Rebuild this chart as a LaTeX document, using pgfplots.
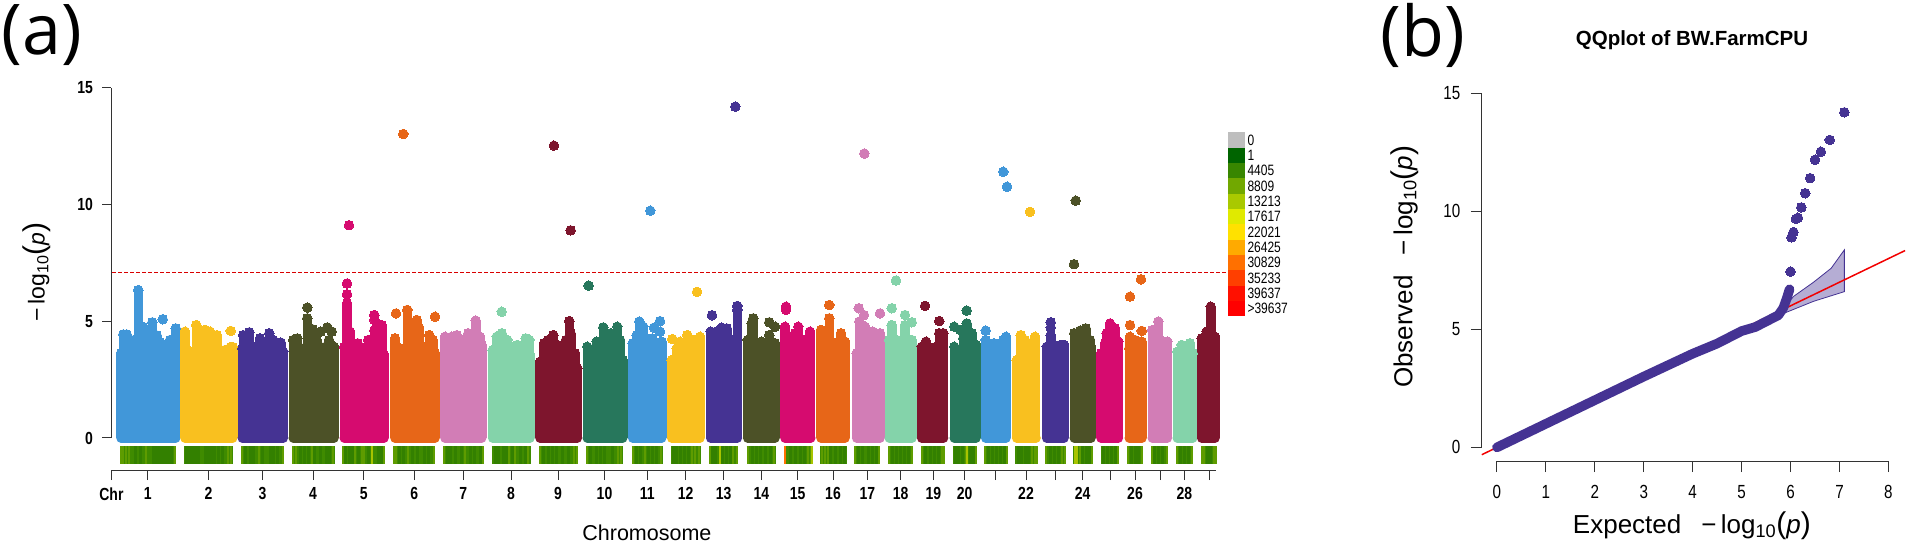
\documentclass[border=0pt]{standalone}
\usepackage{fontspec}
\usepackage{pgfplots}
\pgfplotsset{compat=1.18}
\setmainfont{Liberation Sans}
\newfontfamily\condsans[FakeStretch=0.8]{Liberation Sans}
\newfontfamily\panelfont{Open Sans}

% CMplot colours, repeated every ten chromosomes
\definecolor{cA}{HTML}{4197D9}
\definecolor{cB}{HTML}{F9C01F}
\definecolor{cC}{HTML}{453393}
\definecolor{cD}{HTML}{4C5127}
\definecolor{cE}{HTML}{D60B6F}
\definecolor{cF}{HTML}{E76618}
\definecolor{cG}{HTML}{D27DB6}
\definecolor{cH}{HTML}{84D3AA}
\definecolor{cI}{HTML}{7E152D}
\definecolor{cJ}{HTML}{27775C}
% density strip and its key
\definecolor{sBase}{HTML}{3F8B00}
\definecolor{sDark}{HTML}{338000}
\definecolor{sLight}{HTML}{5E9C00}
\definecolor{sBright}{HTML}{A8C400}
\definecolor{k0}{HTML}{BEBEBE}
\definecolor{k1}{HTML}{006400}
\definecolor{k2}{HTML}{388600}
\definecolor{k3}{HTML}{71A800}
\definecolor{k4}{HTML}{A9C900}
\definecolor{k5}{HTML}{E0EA00}
\definecolor{k6}{HTML}{FFE100}
\definecolor{k7}{HTML}{FFAA00}
\definecolor{k8}{HTML}{FF7000}
\definecolor{k9}{HTML}{FF3F00}
\definecolor{k10}{HTML}{FF1000}
\definecolor{k11}{HTML}{FF0000}

\pgfplotsset{
  base/.style={
    scale only axis, enlargelimits=false, clip=false,
    axis line style={black!80, line width=1pt},
    tick style={black!80, line width=1pt},
    tick align=outside,
    /pgf/number format/assume math mode=true,
  },
  dots/.style={only marks, mark=*, mark size=4.8pt, mark options={fill=#1, draw=#1, line width=0pt}},
}

% #1 colour, #2 #3 centres of the first and last column, #4 columns, #5 free points
\newcommand{\chrom}[5]{%
  \addplot[draw=#1, line width=9.6pt, line cap=round] coordinates {(#2,0) (#3,0)};
  \addplot[ycomb, draw=#1, line width=9.6pt, mark=*, mark size=4.8pt,
    mark options={fill=#1, draw=#1, line width=0pt}] coordinates {#4};
  \addplot[dots=#1] coordinates {#5};
}
% #1 #2 ends of the strip, #3 dark stripes, #4 light stripes (x only, y is the strip's middle)
\newcommand{\strip}[4]{%
  \addplot[draw=sBase, line width=18pt] coordinates {(#1,-0.73) (#2,-0.73)};
  \foreach \sx in {#3} {\edef\tmp{\noexpand\addplot[only marks, mark=|, mark size=9pt, mark options={draw=sDark, line width=3pt}] coordinates {(\sx,-0.73)};}\tmp}
  \foreach \sx in {#4} {\edef\tmp{\noexpand\addplot[only marks, mark=|, mark size=9pt, mark options={draw=sLight, line width=2.5pt}] coordinates {(\sx,-0.73)};}\tmp}
}
\newcommand{\keypatch}[2]{%
  \addplot[fill=#1, draw=none] coordinates {(0,#2) (1,#2) (1,#2+1) (0,#2+1)} --cycle;
}
\newcommand{\mlog}{−\,log\textsubscript{10}{\fontsize{30}{30}\selectfont(}\textit{p}{\fontsize{30}{30}\selectfont)}}

\begin{document}
\begin{tikzpicture}[x=1pt, y=1pt]
\path[use as bounding box] (0,0) rectangle (1908,546);

\node[font=\panelfont\fontsize{70}{70}\selectfont, anchor=center] at (42,511) {(a)};
\node[font=\panelfont\fontsize{70}{70}\selectfont, anchor=center] at (1423,511) {(b)};

% ---------- (a) Manhattan plot ----------
\begin{axis}[base,
  at={(111.4pt,108pt)}, anchor=south west,
  width=1104.1pt, height=350pt,
  xmin=111.4, xmax=1215.5, ymin=0, ymax=15,
  axis y line*=left, axis x line=none,
  ytick={0,5,10,15}, major tick length=9pt,
  yticklabel style={font=\condsans\bfseries\fontsize{17.5}{17.5}\selectfont, xshift=-6pt},
  ylabel={\mlog},
  every axis y label/.style={at={(axis description cs:-0.0674,0.474)}, rotate=90, anchor=center,
    font=\fontsize{23}{23}\selectfont},
]
\chrom{cA}{121}{175.7}{(121,3.63)(123.3,4.44)(126.7,4.44)(130,3.9)(134,4.2)(138.3,6.34)(143.3,4.76)(147.3,4.0)(149.3,4.44)(152.3,4.96)(156.7,4.4)(160,4.1)(165,3.98)(170,4.2)(175.7,4.7)}{(162.7,5.09)}
\chrom{cB}{185}{232.7}{(185,4.56)(190,3.7)(196.3,4.84)(200.7,3.77)(205,4.63)(210,4.56)(216.7,4.41)(220.7,3.77)(225,3.77)(230.7,3.9)(232.7,3.9)}{(230.7,4.59)}
\chrom{cC}{242.3}{283.3}{(242.3,3.84)(243.3,4.41)(249.3,4.53)(253.3,3.91)(260,4.27)(265,4.06)(269.3,4.49)(273.3,4.2)(280.7,4.09)(283.3,3.7)}{}
\chrom{cD}{293.3}{334}{(293.3,4.2)(297.3,4.27)(301.7,3.84)(307.3,5.13)(312.7,4.66)(316.7,4.2)(320.7,3.9)(325,3.9)(329,4.2)(334,3.91)}{(307.3,5.59)(320.7,4.56)(327.3,4.74)(331.7,4.56)}
\chrom{cE}{344.3}{384}{(344.3,3.9)(347,5.77)(350,4.56)(353.3,3.84)(357.7,4.06)(363.3,3.84)(368.3,4.2)(374.3,4.6)(376.7,4.77)(381.7,4.84)(384,3.56)}{(347,6.16)(347,6.62)(374.3,5.06)(374.3,5.27)}
\chrom{cF}{395}{435}{(395,4.27)(400,3.84)(407.3,5.49)(411.7,4.49)(416.7,5.06)(419,4.73)(423.3,3.91)(429.3,4.41)(432.7,4.2)(435,3.63)}{(396,5.34)(435,5.2)}
\chrom{cG}{445}{481.7}{(445,4.34)(451.7,4.34)(456.7,4.41)(463.3,4.2)(468.3,4.49)(475.7,5.03)(480,4.34)(481.7,3.99)}{}
\chrom{cH}{492.7}{530}{(492.7,3.77)(496.7,4.34)(501.7,4.49)(507.3,4.2)(513.3,3.91)(517.3,3.99)(522.3,3.84)(525.7,4.27)(529.3,4.2)(530,3.56)}{(501.7,5.41)}
\chrom{cI}{540}{577.3}{(540,3.27)(544,4.06)(548.3,4.2)(553.3,4.41)(557.3,3.99)(561.7,3.84)(566,4.2)(569.3,5.01)(570.7,4.49)(575,3.63)(577.3,2.99)}{}
\chrom{cJ}{587.3}{622.7}{(587.3,3.91)(591.7,3.56)(596.7,4.13)(603.3,4.74)(607.3,3.77)(610.7,4.49)(617.3,4.77)(620,4.2)(622.7,3.34)}{}
\chrom{cA}{632.7}{661.7}{(632.7,4.06)(636.7,4.41)(639.3,4.99)(643.3,4.77)(646.7,3.99)(652.3,3.99)(656.7,3.99)(661.7,4.13)}{(652.3,4.27)(654,4.73)(660,5.01)(660,4.56)}
\chrom{cB}{671.7}{700}{(671.7,3.34)(676.7,3.84)(680,4.13)(687.3,4.41)(693.3,4.2)(700,4.34)}{(672.3,4.24)}
\chrom{cC}{710.7}{737.3}{(710.7,4.56)(716.7,4.56)(721.7,4.73)(726.7,4.7)(731.7,4.2)(737.3,5.49)}{(712,5.26)(737.3,5.66)}
\chrom{cD}{747.7}{775}{(747.7,4.2)(751.7,4.91)(753.3,5.13)(757.3,3.91)(761.7,4.13)(769.3,4.41)(775,4.06)}{(769.3,4.96)(775,4.77)}
\chrom{cE}{785}{810.7}{(785,4.77)(790,3.77)(795,4.49)(798.3,4.77)(803.3,4.2)(810,4.56)}{(786,5.49)(786,5.63)}
\chrom{cF}{821}{845}{(821,4.63)(825,3.77)(829.3,5.13)(835,4.06)(841,4.49)(845,4.13)}{(829.3,5.7)}
\chrom{cG}{856.7}{880}{(856.7,3.63)(859.3,4.99)(865,4.77)(872.7,4.56)(880,4.49)}{(858.7,5.56)(864,5.27)(880,5.34)}
\chrom{cH}{889.3}{912}{(889.3,4.2)(891.7,4.84)(896.7,4.2)(905,4.84)(911.7,4.2)}{(891.7,5.56)(905,5.27)(911.7,4.96)}
\chrom{cI}{921.7}{943.5}{(921.7,3.91)(926,4.13)(931.7,3.84)(936,3.91)(939.3,4.49)(943.3,4.49)}{(925,5.66)(939.3,5.01)}
\chrom{cJ}{954.3}{976}{(954.3,3.91)(963.3,4.27)(966.7,4.91)(971.7,4.49)(976,3.99)}{(954.3,4.77)(960,4.63)(966.7,5.46)}
\chrom{cA}{985.7}{1006}{(985.7,4.2)(990,3.7)(994,4.06)(999.3,3.84)(1003.3,4.2)(1006,4.34)}{(985.7,4.6)}
\chrom{cB}{1016.7}{1036}{(1016.7,3.34)(1020.7,4.41)(1025,4.2)(1030,3.91)(1035,4.34)}{}
\chrom{cC}{1046.7}{1064}{(1046.7,3.91)(1050.7,4.41)(1056,3.91)(1060.7,3.99)(1064,3.99)}{(1050.7,4.73)(1050.7,4.96)}
\chrom{cD}{1074.3}{1091}{(1074.3,4.49)(1080,4.6)(1085.7,4.7)(1090,4.2)(1091,3.91)}{}
\chrom{cE}{1101}{1118.3}{(1101,3.63)(1105,4.06)(1106.7,4.49)(1110,4.91)(1115,4.7)(1118.3,4.13)}{}
\chrom{cF}{1129.3}{1142}{(1129.3,3.84)(1130,4.34)(1135,4.2)(1141.7,4.13)}{(1130,4.84)(1141.7,4.59)}
\chrom{cG}{1152.3}{1167.3}{(1152.3,4.63)(1158.3,4.99)(1163.3,4.13)(1167.3,4.13)}{}
\chrom{cH}{1177.3}{1192.7}{(1177.3,3.7)(1181.7,3.99)(1190,4.06)(1192.7,3.63)}{}
\chrom{cI}{1201.7}{1215}{(1201.7,4.27)(1206.7,4.56)(1210.7,5.63)(1215,4.34)}{}
% significant SNPs, one colour group each
\addplot[dots=cE] coordinates {(349,9.12)};
\addplot[dots=cF] coordinates {(403.3,13.03)(1141,6.8)(1130,6.06)};
\addplot[dots=cI] coordinates {(553.9,12.53)(570.6,8.9)};
\addplot[dots=cJ] coordinates {(588.6,6.53)};
\addplot[dots=cA] coordinates {(650.3,9.74)(1003.3,11.41)(1007,10.77)};
\addplot[dots=cB] coordinates {(697,6.26)(1030,9.69)};
\addplot[dots=cC] coordinates {(735.3,14.2)};
\addplot[dots=cG] coordinates {(864.3,12.19)};
\addplot[dots=cH] coordinates {(896,6.75)};
\addplot[dots=cD] coordinates {(1075.7,10.17)(1074,7.45)};
% threshold
\addplot[draw=red!85!black, line width=1pt, dash pattern=on 4pt off 2pt] coordinates {(112,7.09)(1228,7.09)};
% SNP density strip
\strip{120}{175.7}{153,156,159,162,165,168,171,135,140}{121,123,126,129,146,175}
\strip{184}{232.7}{186,189,192,195,198,205,208,211,214,218,222}{228,231}
\strip{241}{284}{245,250,253,262,270,273,277}{242,259,283}
\strip{292.3}{335}{300,304,308,314,320,326,329}{293,296,333,312}
\strip{342.7}{385.3}{345,349,352,358,368,378,381}{343,355,362,364,372,384}
\strip{393.3}{435.3}{399,403,412,417,424,428}{394,396,408,434}
\strip{443.3}{483.3}{447,450,455,461,470,474,480}{444,465,483}
\strip{491.7}{531}{495,498,503,506,512,520,525}{509,515,528}
\strip{539.3}{578.3}{543,548,552,556,562,568}{540,574,577}
\strip{586}{623.3}{590,596,600,604,612}{587,618,621}
\strip{631.7}{662.7}{636,640,648,652,656}{645,633,661}
\strip{671}{700.7}{673,676,680,684,688}{692,695,699}
\strip{709.3}{738.3}{712,715,722,726,730}{710,733,737}
\strip{746.7}{775.7}{752,756,760,765,770}{748,774}
\strip{784}{811.7}{790,795,800,804}{808,811}
\strip{820}{846.7}{830,835,840,844}{822,825,828}
\strip{854.7}{880}{858,862,868,872,876}{855,879}
\strip{888.3}{913.3}{892,896,900,904,908}{889,912}
\strip{921.3}{945}{925,930,934,938}{922,942,944}
\strip{952.7}{976.7}{955,958,962,970,973}{966,976}
\strip{984.7}{1007.3}{988,992,996,1000,1004}{985,1007}
\strip{1015.3}{1037.3}{1018,1021,1025,1028}{1032,1035,1037}
\strip{1045}{1065.7}{1050,1054,1058}{1046,1062,1065}
\strip{1073.3}{1092.7}{1082,1086,1089}{1080,1092}
\strip{1100.7}{1119.3}{1103,1107,1111,1115}{1118}
\strip{1127.7}{1143.3}{1131,1135,1138}{1128,1142}
\strip{1151.3}{1168.3}{1154,1158,1162}{1152,1167}
\strip{1176.7}{1193.3}{1180,1184,1188}{1177,1192}
\strip{1201}{1216.7}{1207,1210}{1202,1204,1214,1216}
\addplot[only marks, mark=|, mark size=9pt, mark options={draw=sBright, line width=2.5pt}] coordinates {(372,-0.73)(720,-0.73)(812,-0.73)(967,-0.73)(1075,-0.73)(1077,-0.73)};
\addplot[only marks, mark=|, mark size=9pt, mark options={draw=k8, line width=2pt}] coordinates {(785,-0.73)};
\end{axis}

% chromosome axis
\begin{axis}[base,
  at={(111.4pt,76pt)}, anchor=south west,
  width=1104.1pt, height=10pt,
  xmin=111.4, xmax=1215.5, ymin=0, ymax=1,
  axis x line*=bottom, axis y line=none,
  major tick length=10pt,
  xtick={111.4,147.8,208.6,262.4,313,363.7,414.3,463.3,511,558,604.5,647.3,685.7,723.7,761.3,797.7,833,867.3,900.7,933.3,964.7,995.7,1026,1055.3,1082.7,1110,1135,1160,1184.3,1209},
  xticklabels={Chr,1,2,3,4,5,6,7,8,9,10,11,12,13,14,15,16,17,18,19,20,,22,,24,,26,,28,},
  xticklabel style={font=\condsans\bfseries\fontsize{17.5}{17.5}\selectfont, yshift=-4pt},
  xlabel={Chromosome},
  every axis x label/.style={at={(axis description cs:0.485,-6.3)}, anchor=center,
    font=\fontsize{21.5}{21.5}\selectfont},
]
\end{axis}

% key of the density strip
\begin{axis}[base,
  at={(1228pt,229.6pt)}, anchor=south west,
  width=17pt, height=184pt,
  xmin=0, xmax=1, ymin=0, ymax=12,
  hide x axis, axis y line*=right, axis line style={draw=none},
  major tick length=0pt,
  ytick={0.5,1.5,2.5,3.5,4.5,5.5,6.5,7.5,8.5,9.5,10.5,11.5},
  yticklabels={>39637,39637,35233,30829,26425,22021,17617,13213,8809,4405,1,0},
  yticklabel style={font=\condsans\fontsize{15}{15}\selectfont, anchor=west, xshift=-1pt},
]
\keypatch{k11}{0}
\keypatch{k10}{1}
\keypatch{k9}{2}
\keypatch{k8}{3}
\keypatch{k7}{4}
\keypatch{k6}{5}
\keypatch{k5}{6}
\keypatch{k4}{7}
\keypatch{k3}{8}
\keypatch{k2}{9}
\keypatch{k1}{10}
\keypatch{k0}{11}
\end{axis}

% ---------- (b) QQ plot ----------
\begin{axis}[base,
  at={(1481.8pt,98.6pt)}, anchor=south west,
  width=406.6pt, height=354pt,
  xmin=-0.309, xmax=8, ymin=0, ymax=15,
  axis y line*=left, axis x line=none,
  ytick={0,5,10,15}, major tick length=11pt,
  yticklabel style={font=\condsans\fontsize{19}{19}\selectfont, xshift=-7pt},
  ylabel={Observed\hspace{20pt}\mlog},
  every axis y label/.style={at={(axis description cs:-0.19,0.51)}, rotate=90, anchor=center,
    font=\fontsize{26}{26}\selectfont},
  title={QQplot of BW.FarmCPU},
  title style={at={(0.517,1)}, anchor=center, yshift=47pt, font=\bfseries\fontsize{20.5}{20.5}\selectfont},
]
\addplot[fill=cC!40, draw=cC, line width=0.8pt] coordinates {(5.7,5.6)(6.07,6.41)(6.47,7.0)(6.83,7.59)(7.1,8.37)(7.1,6.6)(6.47,6.19)(5.85,5.67)} --cycle;
\addplot[draw=red!95!black, line width=1.5pt] coordinates {(-0.31,-0.31)(8.34,8.34)};
\addplot[draw=cC, line width=9.6pt, line cap=round, line join=round] coordinates {(0,0)(1,1)(2,2)(3,3)(4,3.97)(4.5,4.4)(5,4.93)(5.28,5.1)(5.75,5.6)(5.85,5.9)(5.92,6.3)(5.98,6.7)};
\addplot[dots=cC] coordinates {(6,7.45)(6.02,8.9)(6.06,9.12)(6.11,9.68)(6.15,9.73)(6.22,10.17)(6.3,10.77)(6.4,11.41)(6.5,12.19)(6.62,12.53)(6.8,13.03)(7.1,14.2)};
\end{axis}

\begin{axis}[base,
  at={(1496.9pt,85pt)}, anchor=south west,
  width=391.5pt, height=10pt,
  xmin=0, xmax=8, ymin=0, ymax=1,
  axis x line*=bottom, axis y line=none,
  xtick={0,...,8}, major tick length=11pt,
  xticklabel style={font=\condsans\fontsize{19}{19}\selectfont, yshift=-10pt},
  xlabel={Expected\hspace{20pt}\mlog},
  every axis x label/.style={at={(axis description cs:0.498,-6.5)}, anchor=center,
    font=\fontsize{26}{26}\selectfont},
]
\end{axis}
\end{tikzpicture}
\end{document}
